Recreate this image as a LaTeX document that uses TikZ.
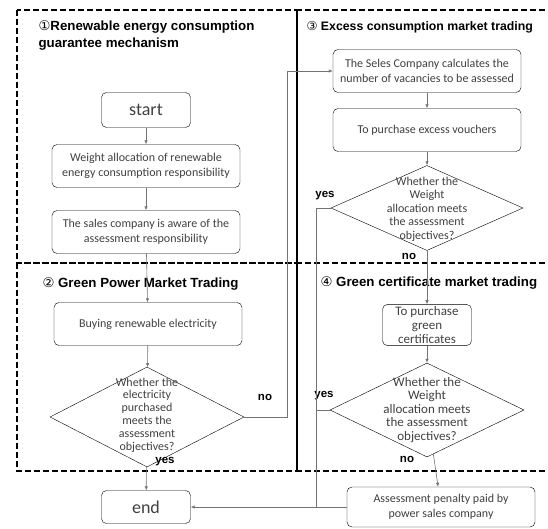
\documentclass[tikz,border=0pt]{standalone}
\usepackage{fontspec}
\setmainfont{Carlito}
\newfontfamily\headfont{Liberation Sans}
\newfontfamily\circfont{DejaVu Sans}
\usetikzlibrary{arrows.meta, positioning, shapes.geometric}

\begin{document}
\begin{tikzpicture}[
  x=1pt, y=-1pt,
  font=\fontsize{12}{14.5}\selectfont, color=black!75,
  box/.style={draw=black, rounded corners=5pt, align=center, inner sep=2pt,
              minimum width=188pt, minimum height=43pt},
  small/.style={box, minimum width=89pt, minimum height=35pt},
  ask/.style={draw=black, diamond, inner sep=0pt},
  asktxt/.style={align=center, font=\fontsize{12}{12.8}\selectfont},
  head/.style={anchor=north west, align=left, text=black,
               font=\headfont\bfseries\fontsize{13.3}{17.5}\selectfont},
  lab/.style={text=black, font=\headfont\bfseries\fontsize{11.5}{13}\selectfont},
  frame/.style={draw=black, line width=2pt, dash pattern=on 6pt off 3pt},
  line/.style={draw=black!55, line width=0.6pt},
  arr/.style={line, -{Latex[length=4pt,width=3.5pt]}}]
\useasboundingbox (0,0) rectangle (548,529);

% dashed frames
\draw[frame] (17,10) rectangle (297,263);
\draw[frame] (297,10) rectangle (555,263);
\draw[frame] (17,263) rectangle (297,471);
\draw[frame] (297,263) rectangle (555,471);

% headings
\node[head] (h1) at (35,17) {{\circfont\mdseries ①}Renewable energy consumption\\guarantee mechanism};
\node[head] (h2) at (39,274) {{\circfont\mdseries ②} Green Power Market Trading};
\node[head, font=\headfont\bfseries\fontsize{12.3}{17.5}\selectfont] (h3) at (303,18) {{\circfont\mdseries ③} Excess consumption market trading};
\node[head] (h4) at (317,273) {{\circfont\mdseries ④} Green certificate market trading};

% left column
\node[small, font=\fontsize{18}{20}\selectfont] (start) at (146,110) {start};
\node[box] (alloc) at (146,166) {Weight allocation of renewable\\ energy consumption responsibility};
\node[box] (aware) at (146,232) {The sales company is aware of the\\ assessment responsibility};
\node[box] (buy) at (148,324) {Buying renewable electricity};
\node[ask, minimum width=194pt, minimum height=100pt] (q1) at (147,417) {};
\node[asktxt] (q1t) at (147,415) {Whether the\\ electricity\\ purchased\\ meets the\\ assessment\\ objectives?};
\node[small, minimum height=33pt, font=\fontsize{18}{20}\selectfont] (end) at (146,507) {end};

% right column
\node[box] (seles) at (427,71) {The Seles Company calculates the\\ number of vacancies to be assessed};
\node[box] (vouch) at (427,130) {To purchase excess vouchers};
\node[ask, minimum width=192pt, minimum height=85pt] (q3) at (427,208) {};
\node[asktxt, font=\fontsize{12}{13.5}\selectfont] (q3t) at (427,209) {Whether the\\ Weight\\ allocation meets\\ the assessment\\ objectives?};
\node[small, minimum height=36pt, font=\fontsize{13}{14}\selectfont] (cert) at (427,325) {To purchase\\ green\\ certificates};
\node[ask, minimum width=194pt, minimum height=94pt] (q4) at (427,410) {};
\node[asktxt, font=\fontsize{13}{13.5}\selectfont] (q4t) at (427,410) {Whether the\\ Weight\\ allocation meets\\ the assessment\\ objectives?};
\node[box, minimum height=40pt] (pen) at (441,507) {Assessment penalty paid by\\ power sales company};

% yes / no
\node[lab] (no1) at (265,397) {no};
\node[lab] (yes1) at (165,462) {yes};
\node[lab] (yes3) at (325,196) {yes};
\node[lab] (no3) at (409,256) {no};
\node[lab] (yes4) at (324,396) {yes};
\node[lab] (no4) at (407,459) {no};

\coordinate (join) at (316,507);

\draw[arr] (start) -- (alloc);
\draw[arr] (alloc) -- (aware);
\draw[arr] (aware) -- (buy);
\draw[arr] (buy) -- (q1);
\draw[arr] (q1) -- (end);
\draw[arr] (q1.east) -- ++(43,0) |- (seles.west);
\draw[arr] (seles) -- (vouch);
\draw[arr] (vouch) -- (q3);
\draw[arr] (q3) -- (cert);
\draw[arr] (cert) -- (q4);
\draw[arr] (q4) -- (pen);
\draw[line] (q3.west) -| (join);
\draw[line] (q4.west) -- (q4.west -| join);
\draw[arr] (pen.west) -- (end.east);
\end{tikzpicture}
\end{document}
